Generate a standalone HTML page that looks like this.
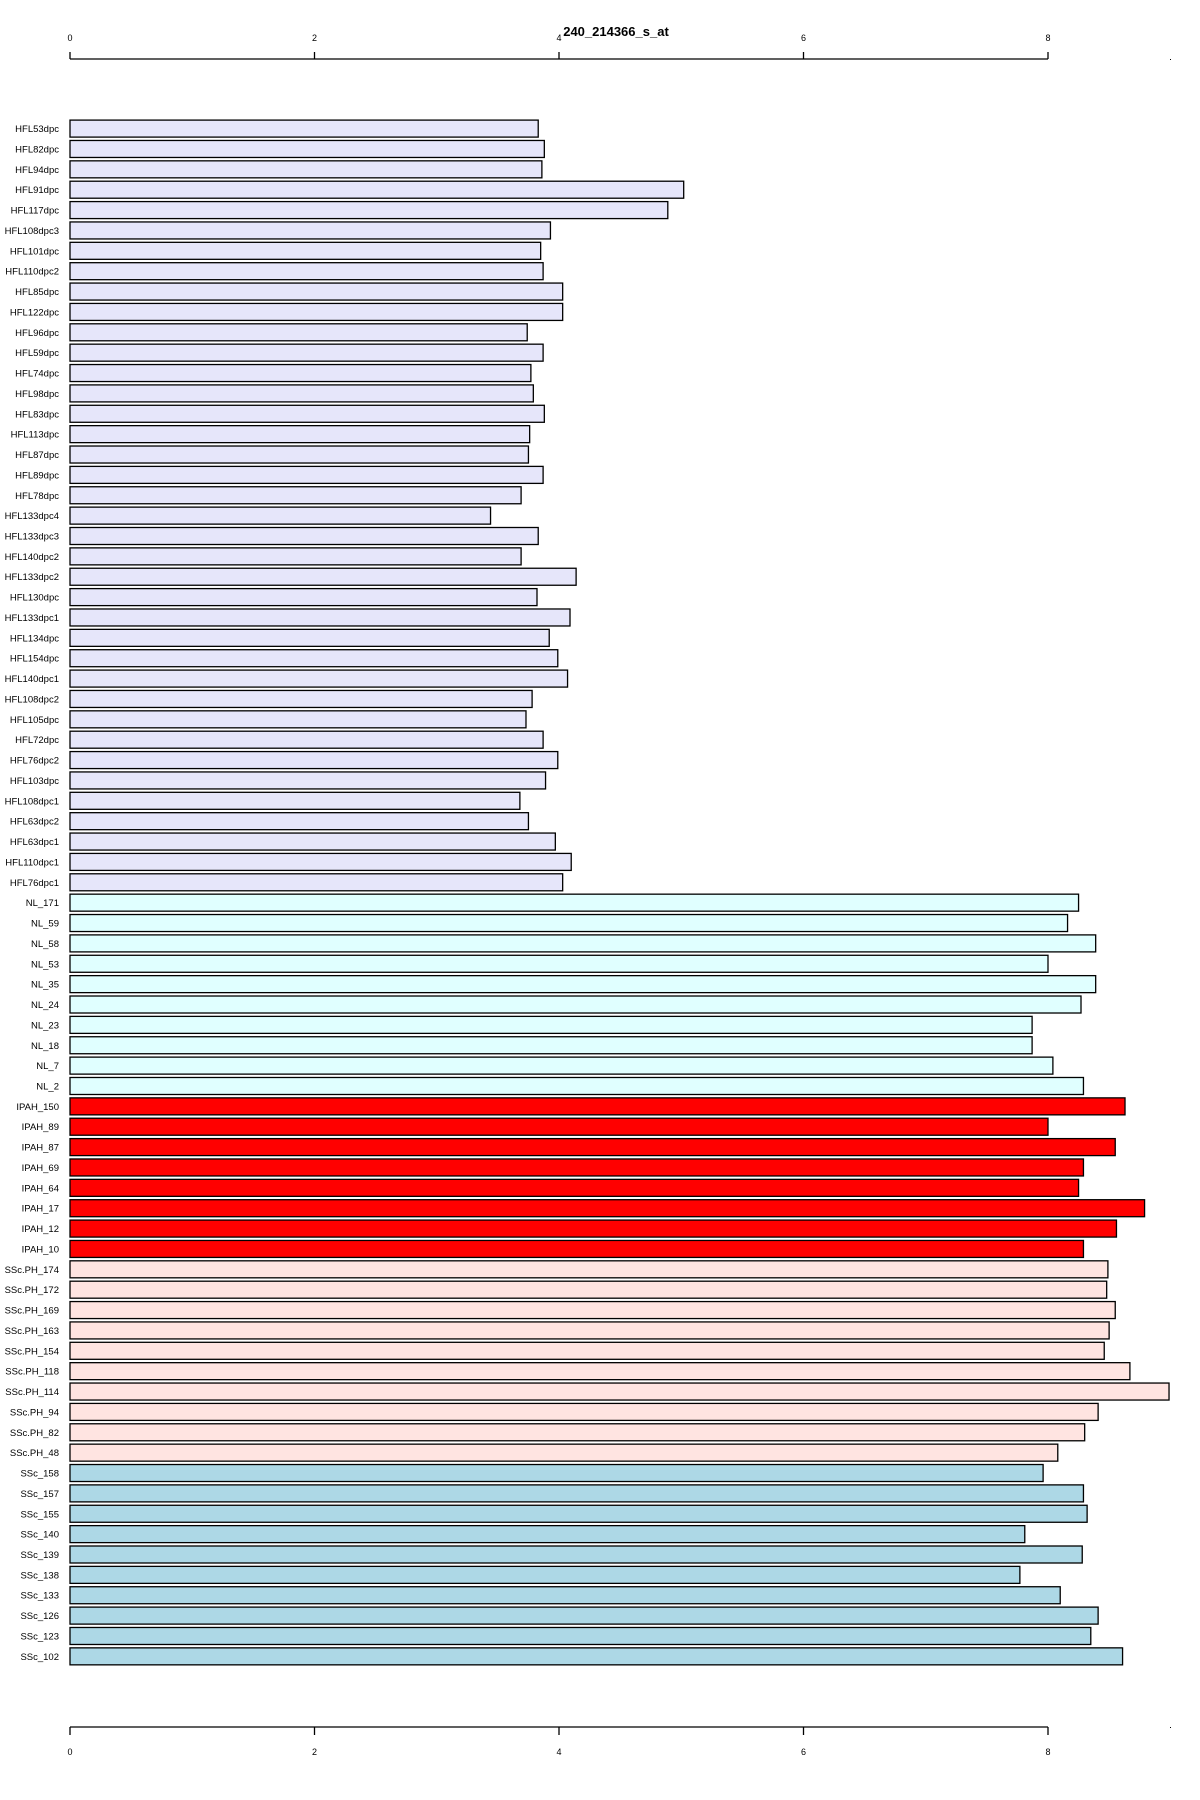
<!DOCTYPE html>
<html><head><meta charset="utf-8"><style>
body{margin:0;background:#fff;}
svg{display:block;font-family:"Liberation Sans",sans-serif;}
</style></head><body>
<svg id="chart" width="1200" height="1800" xmlns="http://www.w3.org/2000/svg">
<text x="616" y="36" text-anchor="middle" font-size="13" font-weight="bold">240_214366_s_at</text>
<g id="bars"></g>
<g id="axes"></g>
</svg>
<script>
const labels=["HFL53dpc","HFL82dpc","HFL94dpc","HFL91dpc","HFL117dpc","HFL108dpc3","HFL101dpc","HFL110dpc2","HFL85dpc","HFL122dpc","HFL96dpc","HFL59dpc","HFL74dpc","HFL98dpc","HFL83dpc","HFL113dpc","HFL87dpc","HFL89dpc","HFL78dpc","HFL133dpc4","HFL133dpc3","HFL140dpc2","HFL133dpc2","HFL130dpc","HFL133dpc1","HFL134dpc","HFL154dpc","HFL140dpc1","HFL108dpc2","HFL105dpc","HFL72dpc","HFL76dpc2","HFL103dpc","HFL108dpc1","HFL63dpc2","HFL63dpc1","HFL110dpc1","HFL76dpc1",
"NL_171","NL_59","NL_58","NL_53","NL_35","NL_24","NL_23","NL_18","NL_7","NL_2",
"IPAH_150","IPAH_89","IPAH_87","IPAH_69","IPAH_64","IPAH_17","IPAH_12","IPAH_10",
"SSc.PH_174","SSc.PH_172","SSc.PH_169","SSc.PH_163","SSc.PH_154","SSc.PH_118","SSc.PH_114","SSc.PH_94","SSc.PH_82","SSc.PH_48",
"SSc_158","SSc_157","SSc_155","SSc_140","SSc_139","SSc_138","SSc_133","SSc_126","SSc_123","SSc_102"];
const values=[3.83,3.88,3.86,5.02,4.89,3.93,3.85,3.87,4.03,4.03,3.74,3.87,3.77,3.79,3.88,3.76,3.75,3.87,3.69,3.44,3.83,3.69,4.14,3.82,4.09,3.92,3.99,4.07,3.78,3.73,3.87,3.99,3.89,3.68,3.75,3.97,4.10,4.03,
8.25,8.16,8.39,8.0,8.39,8.27,7.87,7.87,8.04,8.29,
8.63,8.0,8.55,8.29,8.25,8.79,8.56,8.29,
8.49,8.48,8.55,8.50,8.46,8.67,8.99,8.41,8.30,8.08,
7.96,8.29,8.32,7.81,8.28,7.77,8.10,8.41,8.35,8.61];
const groups=["HFL","NL","IPAH","SSc.PH","SSc"];
const groupCounts=[38,10,8,10,10];
const groupColors=["#E6E6FA","#E0FFFF","#FF0000","#FFE4E1","#ADD8E6"];
const ticks=[0,2,4,6,8];

const NS="http://www.w3.org/2000/svg";
const x=v=>70+v*122.25;
const y=i=>128.6+i*20.37;
const barsG=document.getElementById('bars');
const axesG=document.getElementById('axes');
function mk(t,a,p){const e=document.createElementNS(NS,t);for(const k in a)e.setAttribute(k,a[k]);p.appendChild(e);return e;}
const colorOf=[];groupCounts.forEach((c,g)=>{for(let k=0;k<c;k++)colorOf.push(groupColors[g]);});
labels.forEach((l,i)=>{
  const r=mk('rect',{x:x(0),y:y(i)-8.5,width:x(values[i])-x(0),height:17,fill:colorOf[i],stroke:'#000','stroke-width':1.3},barsG);
  
  
  const t=mk('text',{x:59,y:y(i)+3.5,'text-anchor':'end','font-size':9.5},barsG);
  t.textContent=l;
  
  
});
[[59,-7,41],[1727,8,1755]].forEach(([ay,td,ly],k)=>{
  const ln=mk('line',{x1:x(0),x2:x(8),y1:ay,y2:ay,stroke:'#000','stroke-width':1.3},axesG);
  
  
  ticks.forEach(v=>{
    const tk=mk('line',{x1:x(v),x2:x(v),y1:ay,y2:ay+td,stroke:'#000','stroke-width':1.3},axesG);
    
    
    const tl=mk('text',{x:x(v),y:ly,'text-anchor':'middle','font-size':9},axesG);
    tl.textContent=v;
    
    
  });
  const d=mk('rect',{x:1170,y:ay,width:1,height:1,fill:'#000'},axesG);
  
  
});
</script>
</body></html>
